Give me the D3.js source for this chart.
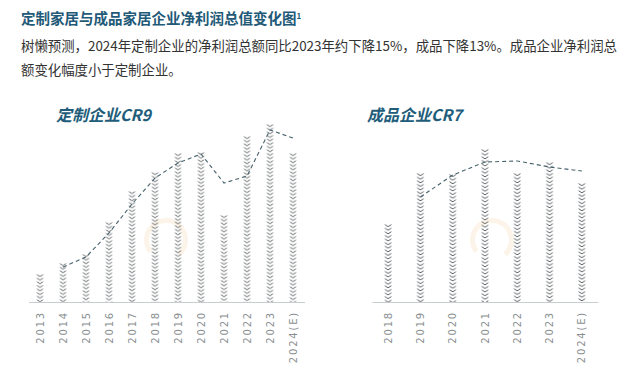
<!DOCTYPE html>
<html>
<head>
<meta charset="utf-8">
<script src="https://cdn.jsdelivr.net/npm/d3@7"></script>
<style>
  body { margin: 0; background: #fff; }
  svg { display: block; }
</style>
</head>
<body>
<div id="chart"></div>
<script>
(function() {
var WIDTH = 640;
var HEIGHT = 374;

// 定制企业CR9
var customYears = ['2013', '2014', '2015', '2016', '2017', '2018', '2019', '2020', '2021', '2022', '2023', '2024(E)'];
var customBars = [28, 39, 48, 80, 111, 130, 149, 150, 87, 166, 178, 149];
var customLine = [null, 35, 45, 69, 98, 124, 139, 148, 119, 126, 172, 164];

// 成品企业CR7
var finishedYears = ['2018', '2019', '2020', '2021', '2022', '2023', '2024(E)'];
var finishedBars = [78, 129, 128, 153, 129, 140, 119];
var finishedLine = [null, 105, 127, 140, 141, 135, 131];

var svg = d3.select('#chart').append('svg')
  .attr('width', WIDTH)
  .attr('height', HEIGHT);

var defs = svg.append('defs');

// header
svg.append('text')
  .attr('x', 21).attr('y', 24)
  .attr('font-family', 'Noto Sans CJK SC')
  .attr('font-size', 14.5).attr('font-weight', 'bold')
  .attr('fill', '#1f5a78')
  .text('定制家居与成品家居企业净利润总值变化图')
  .append('tspan').attr('font-size', 8).attr('dy', -5).text('1');

var sub = ['树懒预测，2024年定制企业的净利润总额同比2023年约下降15%，成品下降13%。成品企业净利润总',
  '额变化幅度小于定制企业。'];
svg.selectAll('.sub').data(sub).enter().append('text')
  .attr('x', 21).attr('y', function(d, i) { return 51 + i * 24; })
  .attr('font-family', 'Noto Sans CJK SC')
  .attr('font-size', 13.4)
  .attr('fill', '#333')
  .text(function(d) { return d; });

var y = d3.scaleLinear().domain([0, 200]).range([302, 102]);

function drawPanel(id, title, titleX, years, bars, line, x0, x1, barW, markX) {
  var x = d3.scaleBand().domain(years).range([x0, x1]).padding(0);
  var g = svg.append('g');

  // faint watermark
  g.append('path')
    .attr('transform', 'translate(' + markX + ',240)')
    .attr('d', d3.arc().innerRadius(17).outerRadius(22).startAngle(-2.2).endAngle(2.4)())
    .attr('fill', '#f6c98f').attr('opacity', 0.2);

  g.append('text')
    .attr('x', titleX).attr('y', 121)
    .attr('font-family', 'Noto Sans CJK SC')
    .attr('font-size', 16).attr('font-weight', 'bold').attr('font-style', 'italic')
    .attr('fill', '#215d7a')
    .text(title);

  // chevron patterns, one per bar so the pattern lines up with the bar
  bars.forEach(function(v, i) {
    var cx = x(years[i]) + x.bandwidth() / 2;
    var p = defs.append('pattern')
      .attr('id', id + i)
      .attr('patternUnits', 'userSpaceOnUse')
      .attr('x', cx - barW / 2).attr('y', y(v))
      .attr('width', barW).attr('height', 3.6);
    p.append('path')
      .attr('d', 'M0.5,0.6 L' + barW / 2 + ',2.6 L' + (barW - 0.5) + ',0.6')
      .attr('fill', 'none').attr('stroke', '#4a4f52').attr('stroke-width', 0.9);
  });

  g.selectAll('.bar').data(bars).enter().append('rect')
    .attr('x', function(d, i) { return x(years[i]) + x.bandwidth() / 2 - barW / 2; })
    .attr('y', function(d) { return y(d); })
    .attr('width', barW)
    .attr('height', function(d) { return y(0) - y(d); })
    .attr('fill', function(d, i) { return 'url(#' + id + i + ')'; });

  var axis = g.append('g')
    .attr('transform', 'translate(0,302)')
    .call(d3.axisBottom(x).tickSize(0).tickPadding(0));
  axis.select('.domain').attr('stroke', '#c8cdd0');
  axis.selectAll('text')
    .attr('transform', 'translate(0,9) rotate(-90)')
    .attr('dy', '0.35em')
    .attr('text-anchor', 'end')
    .attr('font-family', 'DejaVu Sans')
    .attr('font-size', 10)
    .attr('letter-spacing', 1.8)
    .attr('fill', '#8a8f92');

  var lineGen = d3.line()
    .defined(function(d) { return d != null; })
    .x(function(d, i) { return x(years[i]) + x.bandwidth() / 2; })
    .y(function(d) { return y(d); });
  g.append('path')
    .datum(line)
    .attr('d', lineGen)
    .attr('fill', 'none')
    .attr('stroke', '#46626c')
    .attr('stroke-width', 1.1)
    .attr('stroke-dasharray', '4,3');
}

drawPanel('cp', '定制企业CR9', 56, customYears, customBars, customLine, 28.5, 304.5, 7, 166);
drawPanel('fp', '成品企业CR7', 367, finishedYears, finishedBars, finishedLine, 372, 598, 7.5, 492);
})();
</script>
</body>
</html>
